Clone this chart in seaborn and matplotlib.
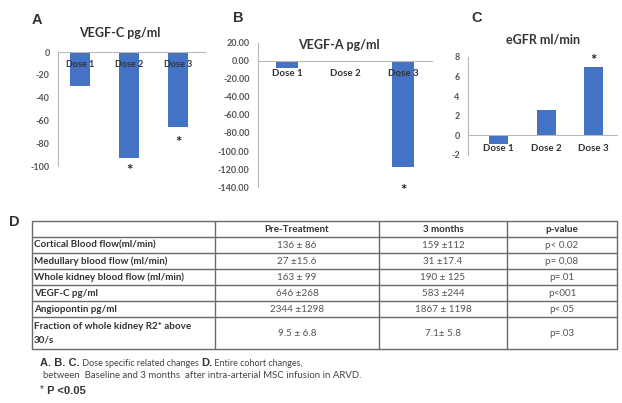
import matplotlib
matplotlib.use("Agg")
import matplotlib.pyplot as plt
import seaborn as sns
import pandas as pd

sns.set_theme(style="white")
plt.rcParams['font.family'] = ['Lato', 'DejaVu Sans']

# ---------------- data ----------------
doses = ["Dose 1", "Dose 2", "Dose 3"]
vegfc_change = [-30, -93, -66]
vegfa_change = [-8.0, -1.0, -118.0]
egfr_change = [-0.9, 2.6, 7.0]
vegfc_sig = [False, True, True]
vegfa_sig = [False, False, True]
egfr_sig = [False, False, True]

vegfc_ticks = [0, -20, -40, -60, -80, -100]
vegfa_ticks = [20, 0, -20, -40, -60, -80, -100, -120, -140]
egfr_ticks = [8, 6, 4, 2, 0, -2]

table_header = ["", "Pre-Treatment", "3 months", "p-value"]
table_rows = [
    "Cortical Blood flow(ml/min)",
    "Medullary blood flow (ml/min)",
    "Whole kidney blood flow (ml/min)",
    "VEGF-C pg/ml",
    "Angiopontin pg/ml",
    "Fraction of whole kidney R2* above\n30/s",
]
pre_treatment = ["136 \u00b1 86", "27 \u00b115.6", "163 \u00b1 99", "646 \u00b1268", "2344 \u00b11298", "9.5 \u00b1 6.8"]
three_months = ["159 \u00b1112", "31 \u00b117.4", "190 \u00b1 125", "583 \u00b1244", "1867 \u00b1 1198", "7.1\u00b1 5.8"]
p_values = ["p< 0.02", "p= 0,08", "p=.01", "p<001", "p<.05", "p=.03"]

BAR = "#4472C4"
GRID = "#b8b8b8"
TXT = "#333333"

W, H = 622, 403
fig = plt.figure(figsize=(W / 100, H / 100), dpi=100)
fig.patch.set_facecolor("white")


def px_axes(x0, y0, x1, y1):
    return fig.add_axes([x0 / W, 1 - y1 / H, (x1 - x0) / W, (y1 - y0) / H])


def bar_panel(ax, values, ticks, ylim, xlim, width, fmt, title, title_xy, letter, letter_xy,
              sig, star_offsets, xlabfs):
    df = pd.DataFrame({"dose": doses, "value": values})
    sns.barplot(data=df, x="dose", y="value", color=BAR, width=width, ax=ax,
                saturation=1, edgecolor="none")
    ax.set_axisbelow(False)
    ax.set_ylim(*ylim)
    ax.set_xlim(*xlim)
    ax.set_yticks(ticks)
    ax.set_yticklabels([fmt.format(t) for t in ticks], fontsize=6.5, fontweight="bold", color="#555555")
    ax.set_xlabel("")
    ax.set_ylabel("")
    for s in ["top", "right"]:
        ax.spines[s].set_visible(False)
    ax.spines["left"].set_color(GRID)
    ax.spines["left"].set_linewidth(0.8)
    ax.spines["bottom"].set_position(("data", 0))
    ax.spines["bottom"].set_color(GRID)
    ax.spines["bottom"].set_linewidth(0.8)
    ax.set_xticks(range(len(doses)))
    ax.set_xticklabels(doses, fontsize=xlabfs, fontweight="bold", color=TXT)
    ax.tick_params(axis="x", length=0, pad=6)
    ax.tick_params(axis="y", length=0, pad=6)
    ax.set_facecolor("none")
    for i, (v, s, off) in enumerate(zip(values, sig, star_offsets)):
        if s:
            ax.text(i, v + off, "*", ha="center", va="center", fontsize=11,
                    fontweight="bold", color="#222222", clip_on=False)
    fig.text(title_xy[0] / W, 1 - title_xy[1] / H, title, ha="center", va="center",
             fontsize=9, fontweight="bold", color=TXT)
    fig.text(letter_xy[0] / W, 1 - letter_xy[1] / H, letter, ha="center", va="center",
             fontsize=10.5, fontweight="bold", color=TXT, family="Liberation Sans")


# Panel A
axA = px_axes(58, 52, 205, 166)
bar_panel(axA, vegfc_change, vegfc_ticks, (-100, 0), (-0.45, 2.55), 0.42, "{:d}",
          "VEGF-C pg/ml", (120, 33), "A", (37, 20), vegfc_sig, [-11, -11, -14], 6.5)

# Panel B
axB = px_axes(258, 43, 432, 187)
bar_panel(axB, vegfa_change, vegfa_ticks, (-140, 20), (-0.5, 2.5), 0.38, "{:.2f}",
          "VEGF-A pg/ml", (339, 45), "B", (238, 18), vegfa_sig, [0, 0, -26], 7)

# Panel C
axC = px_axes(468, 57, 617, 155)
bar_panel(axC, egfr_change, egfr_ticks, (-2, 8), (-0.65, 2.5), 0.4, "{:d}",
          "eGFR ml/min", (543, 40), "C", (477, 18), egfr_sig, [0, 0, 0.6], 7)

# ---------------- Table D ----------------
axT = fig.add_axes([0, 0, 1, 1])
axT.set_xlim(0, W)
axT.set_ylim(H, 0)
axT.axis("off")

fig.text(14 / W, 1 - 222 / H, "D", ha="center", va="center", fontsize=10.5,
         fontweight="bold", color=TXT, family="Liberation Sans")

x_left, x_right = 32, 617
col_lines = [215, 379, 507]
row_lines = [221, 237, 253, 269, 285, 301, 317, 349]
LINE = "#6a6a6a"
for y in row_lines:
    axT.plot([x_left, x_right], [y, y], color=LINE, lw=1.0)
for x in [x_left] + col_lines + [x_right]:
    axT.plot([x, x], [row_lines[0], row_lines[-1]], color=LINE, lw=1.0)

col_centers = [(col_lines[0] + col_lines[1]) / 2, (col_lines[1] + col_lines[2]) / 2,
               (col_lines[2] + x_right) / 2]
yc = (row_lines[0] + row_lines[1]) / 2
for cx, h in zip(col_centers, table_header[1:]):
    axT.text(cx, yc, h, ha="center", va="center", fontsize=7.1, fontweight="bold", color=TXT)

for i, label in enumerate(table_rows):
    y0, y1 = row_lines[i + 1], row_lines[i + 2]
    ym = (y0 + y1) / 2
    axT.text(34, ym, label, ha="left", va="center", fontsize=7.1, fontweight="bold",
             color=TXT, linespacing=1.6)
    for cx, v in zip(col_centers, [pre_treatment[i], three_months[i], p_values[i]]):
        axT.text(cx, ym, v, ha="center", va="center", fontsize=7.1, color="#555555")

# ---------------- caption ----------------
cap_y1, cap_y2, cap_y3 = 363, 376, 390
t1 = axT.text(40, cap_y1, "A. B. C.", ha="left", va="center", fontsize=8,
              fontweight="bold", color=TXT, family="Liberation Sans")
t2 = axT.annotate(" Dose specific related changes ", xy=(1, 0.5), xycoords=t1, va="center",
                  fontsize=6.5, color="#444444")
t3 = axT.annotate("D.", xy=(1, 0.5), xycoords=t2, va="center", fontsize=8,
                  fontweight="bold", color=TXT, family="Liberation Sans")
axT.annotate(" Entire cohort changes,", xy=(1, 0.5), xycoords=t3, va="center",
             fontsize=6.5, color="#444444")
axT.text(43, cap_y2, "between  Baseline and 3 months  after intra-arterial MSC infusion in ARVD.",
         ha="left", va="center", fontsize=6.9, color="#444444")
t4 = axT.text(40, cap_y3 - 1, "*", ha="left", va="center", fontsize=7, color=TXT,
              family="Liberation Sans")
axT.annotate(" P <0.05", xy=(1, 0.3), xycoords=t4, va="center", fontsize=8,
             fontweight="bold", color=TXT, family="Liberation Sans")

fig.savefig("out.png", dpi=100, facecolor="white")
